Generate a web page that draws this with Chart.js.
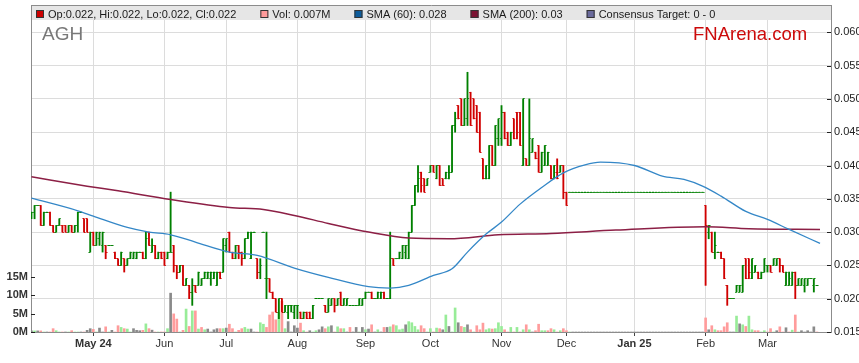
<!DOCTYPE html>
<html><head><meta charset="utf-8">
<script src="https://cdn.jsdelivr.net/npm/chart.js@4.4.1/dist/chart.umd.min.js"></script>
<style>
html,body{margin:0;padding:0;background:#fff;}
#wrap{width:859px;height:363px;position:relative;}
canvas{display:block;}
</style></head><body>
<div id="wrap"><canvas id="c" width="859" height="363"></canvas></div>
<script>
// trading-day number of the first bar (day 0 = 1 May 2024, weekdays only)
const firstDay = -20;

const openP = [
0.032,0.033,0.034,0.034,0.031,0.033,0.033,0.031,0.030,0.031,
0.031,0.031,0.030,0.031,0.030,0.031,0.033,0.032,0.032,0.027,
0.030,0.028,0.029,0.028,0.028,0.028,0.028,0.027,0.026,0.025,
0.026,0.025,0.026,0.026,0.026,0.027,0.027,0.026,0.030,0.027,
0.028,0.026,0.027,0.027,0.026,0.027,0.028,0.025,0.024,0.025,
0.022,0.022,0.021,0.022,0.022,0.022,0.023,0.023,0.023,0.023,
0.022,0.024,0.024,0.028,0.030,0.027,0.026,0.028,0.027,0.026,
0.029,0.026,0.030,0.026,0.024,0.030,0.023,0.023,0.021,0.020,
0.018,0.020,0.018,0.018,0.019,0.018,0.019,0.018,0.017,0.018,
0.018,0.017,0.020,0.020,0.020,0.019,0.018,0.019,0.020,0.019,
0.021,0.019,0.019,0.019,0.019,0.019,0.019,0.019,0.020,0.021,
0.021,0.020,0.020,0.020,0.021,0.020,0.020,0.026,0.026,0.026,
0.026,0.027,0.026,0.030,0.034,0.037,0.039,0.038,0.037,0.039,
0.040,0.038,0.040,0.038,0.038,0.038,0.039,0.046,0.049,0.050,
0.046,0.047,0.051,0.050,0.049,0.048,0.041,0.038,0.038,0.043,
0.040,0.044,0.044,0.048,0.045,0.043,0.047,0.048,0.048,0.040,
0.041,0.040,0.042,0.042,0.043,0.039,0.040,0.040,0.040,0.038,
0.039,0.039,0.040,0.036,
0.036,0.036,0.036,0.036,0.036,0.036,0.036,0.036,0.036,0.036,0.036,
0.036,0.036,0.036,0.036,0.036,0.036,0.036,0.036,0.036,0.036,0.036,
0.036,0.036,0.036,0.036,0.036,0.036,0.036,0.036,0.036,0.036,0.036,
0.036,0.036,0.036,0.036,0.036,0.036,0.036,0.036,0.036,0.036,0.036,
0.034,0.030,0.030,0.027,0.027,0.027,0.026,0.022,0.020,0.020,
0.021,0.021,0.021,0.026,0.026,0.023,0.024,0.024,0.023,0.024,
0.025,0.025,0.025,0.025,0.026,0.025,0.022,0.022,0.022,0.024,
0.022,0.022,0.022,0.022,0.023,0.022,0.022];

const highP = [
0.033,0.034,0.034,0.034,0.033,0.033,0.033,0.031,0.031,0.032,
0.031,0.031,0.031,0.031,0.031,0.033,0.033,0.032,0.032,0.030,
0.030,0.030,0.030,0.030,0.028,0.028,0.028,0.027,0.026,0.027,
0.026,0.026,0.027,0.027,0.027,0.027,0.027,0.030,0.030,0.029,
0.028,0.027,0.027,0.027,0.027,0.036,0.028,0.025,0.025,0.025,
0.023,0.022,0.023,0.022,0.024,0.023,0.024,0.024,0.024,0.024,
0.024,0.024,0.029,0.029,0.030,0.027,0.028,0.028,0.027,0.029,
0.030,0.030,0.030,0.026,0.026,0.030,0.030,0.023,0.021,0.020,
0.020,0.020,0.019,0.019,0.019,0.019,0.019,0.018,0.018,0.018,
0.018,0.019,0.020,0.020,0.020,0.019,0.020,0.020,0.020,0.020,
0.021,0.020,0.020,0.019,0.019,0.019,0.020,0.020,0.021,0.021,
0.021,0.020,0.021,0.021,0.021,0.020,0.030,0.026,0.026,0.027,
0.028,0.028,0.030,0.034,0.037,0.040,0.039,0.038,0.038,0.040,
0.040,0.040,0.040,0.038,0.039,0.040,0.046,0.048,0.049,0.050,
0.050,0.054,0.051,0.050,0.049,0.048,0.041,0.040,0.043,0.043,
0.046,0.047,0.049,0.048,0.045,0.045,0.047,0.048,0.048,0.050,
0.041,0.050,0.044,0.042,0.043,0.042,0.043,0.042,0.040,0.040,
0.041,0.040,0.040,0.036,
0.036,0.036,0.036,0.036,0.036,0.036,0.036,0.036,0.036,0.036,0.036,
0.036,0.036,0.036,0.036,0.036,0.036,0.036,0.036,0.036,0.036,0.036,
0.036,0.036,0.036,0.036,0.036,0.036,0.036,0.036,0.036,0.036,0.036,
0.036,0.036,0.036,0.036,0.036,0.036,0.036,0.036,0.036,0.036,0.036,
0.034,0.031,0.030,0.030,0.027,0.027,0.026,0.022,0.020,0.020,
0.022,0.022,0.025,0.026,0.026,0.026,0.025,0.024,0.024,0.026,
0.025,0.025,0.026,0.026,0.026,0.025,0.024,0.024,0.024,0.024,
0.023,0.023,0.023,0.023,0.023,0.023,0.022];

const lowP = [
0.032,0.032,0.034,0.031,0.031,0.033,0.031,0.030,0.030,0.031,
0.030,0.030,0.030,0.030,0.030,0.030,0.033,0.030,0.030,0.027,
0.028,0.028,0.028,0.027,0.026,0.028,0.028,0.026,0.025,0.025,
0.024,0.025,0.026,0.026,0.026,0.027,0.026,0.026,0.028,0.027,
0.026,0.026,0.026,0.025,0.026,0.027,0.024,0.023,0.024,0.022,
0.022,0.020,0.019,0.021,0.022,0.022,0.023,0.023,0.022,0.023,
0.022,0.023,0.024,0.027,0.027,0.026,0.026,0.026,0.025,0.026,
0.029,0.026,0.030,0.023,0.023,0.030,0.020,0.021,0.020,0.018,
0.017,0.018,0.018,0.017,0.018,0.017,0.017,0.017,0.017,0.017,
0.017,0.017,0.020,0.020,0.020,0.018,0.018,0.019,0.018,0.019,
0.019,0.019,0.019,0.019,0.019,0.019,0.019,0.019,0.020,0.021,
0.020,0.020,0.020,0.020,0.020,0.020,0.020,0.025,0.026,0.026,
0.026,0.026,0.026,0.030,0.034,0.036,0.036,0.036,0.037,0.039,
0.039,0.038,0.037,0.037,0.038,0.038,0.039,0.045,0.047,0.046,
0.046,0.046,0.046,0.047,0.045,0.042,0.038,0.038,0.038,0.040,
0.040,0.043,0.043,0.044,0.043,0.043,0.044,0.044,0.043,0.040,
0.040,0.040,0.042,0.041,0.039,0.039,0.040,0.040,0.038,0.038,
0.038,0.039,0.035,0.034,
0.036,0.036,0.036,0.036,0.036,0.036,0.036,0.036,0.036,0.036,0.036,
0.036,0.036,0.036,0.036,0.036,0.036,0.036,0.036,0.036,0.036,0.036,
0.036,0.036,0.036,0.036,0.036,0.036,0.036,0.036,0.036,0.036,0.036,
0.036,0.036,0.036,0.036,0.036,0.036,0.036,0.036,0.036,0.036,0.036,
0.022,0.029,0.027,0.026,0.027,0.026,0.023,0.019,0.020,0.020,
0.021,0.021,0.021,0.023,0.023,0.023,0.024,0.023,0.023,0.024,
0.024,0.024,0.025,0.025,0.024,0.024,0.022,0.022,0.022,0.020,
0.022,0.022,0.021,0.022,0.023,0.021,0.022];

const closeP = [
0.033,0.034,0.034,0.031,0.033,0.033,0.031,0.030,0.031,0.032,
0.030,0.030,0.031,0.030,0.031,0.033,0.033,0.030,0.030,0.030,
0.028,0.030,0.030,0.030,0.027,0.028,0.028,0.026,0.025,0.027,
0.025,0.026,0.027,0.027,0.027,0.027,0.026,0.029,0.028,0.028,
0.026,0.027,0.026,0.025,0.027,0.027,0.025,0.024,0.025,0.022,
0.023,0.021,0.022,0.021,0.024,0.023,0.024,0.024,0.024,0.024,
0.024,0.023,0.029,0.029,0.027,0.026,0.028,0.027,0.026,0.029,
0.030,0.030,0.030,0.024,0.025,0.030,0.023,0.021,0.020,0.018,
0.020,0.018,0.019,0.019,0.019,0.019,0.019,0.017,0.018,0.017,
0.017,0.019,0.020,0.020,0.020,0.018,0.020,0.020,0.019,0.020,
0.019,0.020,0.020,0.019,0.019,0.019,0.020,0.020,0.021,0.021,
0.020,0.020,0.021,0.021,0.020,0.020,0.026,0.025,0.026,0.027,
0.028,0.028,0.030,0.034,0.037,0.038,0.037,0.036,0.038,0.040,
0.039,0.040,0.037,0.037,0.039,0.039,0.046,0.047,0.047,0.046,
0.050,0.050,0.046,0.047,0.045,0.042,0.038,0.040,0.043,0.040,
0.046,0.047,0.048,0.044,0.043,0.045,0.044,0.045,0.043,0.050,
0.040,0.044,0.044,0.041,0.039,0.042,0.043,0.042,0.038,0.040,
0.038,0.040,0.036,0.034,
0.036,0.036,0.036,0.036,0.036,0.036,0.036,0.036,0.036,0.036,0.036,
0.036,0.036,0.036,0.036,0.036,0.036,0.036,0.036,0.036,0.036,0.036,
0.036,0.036,0.036,0.036,0.036,0.036,0.036,0.036,0.036,0.036,0.036,
0.036,0.036,0.036,0.036,0.036,0.036,0.036,0.036,0.036,0.036,0.036,
0.031,0.031,0.027,0.028,0.027,0.026,0.023,0.020,0.020,0.020,
0.022,0.022,0.025,0.023,0.024,0.026,0.025,0.023,0.024,0.026,
0.025,0.024,0.026,0.026,0.025,0.024,0.024,0.023,0.024,0.022,
0.023,0.023,0.023,0.023,0.023,0.023,0.022];

// volume in millions of shares
const volumeM = [
0.3,0.3,0.3,0.3,0,0,0,0.9,0.35,0,
0,0,0,0.35,0,0,0,0,0.45,0.9,
0.7,0,1.06,0,1.4,0,0.45,0,1.7,1.24,
0.9,0.8,0,0.9,0.45,0.35,0.45,2.2,0.9,0.5,
0,0,0,0,0.9,10.5,4.9,3.5,0,0.45,
6.2,1.5,5.7,5.7,0.8,1.24,0.6,0.8,0,0.6,
0.9,0.9,0.9,1.06,2.1,0.9,0,0.45,0.9,1.24,
0.8,0.8,0,0,2.5,2.1,1.24,4.6,5.4,3.3,
5.2,8.3,0.9,2.8,0,1.7,1.06,2.4,0.35,0,
0.35,0,0.35,0.6,1.4,0.9,1.4,1.7,0,1.4,
0.9,0.9,0,1.24,0,1.24,0,1.24,0.6,0.8,
1.95,0,0.6,0,1.24,1.24,1.4,1.95,1.7,0.6,
0.8,1.95,2.8,2.5,1.5,0.6,1.7,0.9,0,0.9,
0,1.06,0.9,0.6,4.6,1.5,0,6.5,2.5,1.5,
1.24,1.95,0.6,0,1.7,0.6,2.4,0.6,0.9,0.8,
0.9,2.5,1.5,0.6,0,1.24,0,1.24,0,0.6,
1.95,0.6,0,0.35,2.1,0.35,0.35,0.35,0.9,0.6,
0,0.35,0.9,0.35,
0,0,0,0,0,0,0,0,0,0,0,
0,0,0,0,0,0,0,0,0,0,0,
0,0,0,0,0,0,0,0,0,0,0,
0,0,0,0,0,0,0,0,0,0,0,
3.8,0.6,1.7,0.6,0.35,0.35,1.4,2.5,0,0,
4.3,2.2,1.95,1.5,4.3,0.6,0.35,0.35,0,0.35,
0,0.9,0,0.35,1.4,0,1.15,0,0.5,4.6,
0,0.35,0,0.35,0,1.4,0.007];

// moving averages (trading day -> value)
const sma60Days   = [-20,-5,0,11,18,25,33,44,53,65,76,89,96,102,110,116,121,127,132,138,145,152,159,164,175,184,191,197,203,211,218,225,235];
const sma60Values = [0.0351,0.0332,0.0324,0.0307,0.0300,0.0296,0.0285,0.0270,0.0265,0.0246,0.0232,0.0218,0.0216,0.0220,0.0235,0.0245,0.0270,0.0297,0.0315,0.0342,0.0367,0.0389,0.0401,0.0405,0.0400,0.0384,0.0379,0.0369,0.0354,0.0331,0.0319,0.0304,0.0283];
const sma200Days   = [-20,-2,8,25,44,55,65,76,89,102,115,131,148,169,198,212,235];
const sma200Values = [0.0383,0.0369,0.0362,0.0349,0.0337,0.0334,0.0325,0.0313,0.0300,0.0291,0.0290,0.0296,0.0298,0.0303,0.0308,0.0305,0.0304];

const monthTickDays = [0,23,43,66,88,109,132,153,175,198,218];
const monthLabels   = ['May 24','Jun','Jul','Aug','Sep','Oct','Nov','Dec','Jan 25','Feb','Mar'];
const priceTicks  = [0.015,0.020,0.025,0.030,0.035,0.040,0.045,0.050,0.055,0.060];
const volumeTicks = [0,5,10,15];

const legendLabels = ['Op:0.022, Hi:0.022, Lo:0.022, Cl:0.022','Vol: 0.007M','SMA (60): 0.028','SMA (200): 0.03','Consensus Target: 0 - 0'];
const legendColors = ['#cc0000','#ff9a9a','#0d5c9c','#7c1232','#6a6a9c'];
const ticker = 'AGH';
const brand = 'FNArena.com';

// ---------------------------------------------------------------
const FONT = "'Liberation Sans', Arial, sans-serif";
const UP = '#008000', DOWN = '#d00000';
const days = openP.map((_, i) => firstDay + i);
const barColor = closeP.map((c, i) => c >= openP[i] ? UP : DOWN);
const volColor = closeP.map((c, i) => i === 0 ? '#8a8a8a' : (c > closeP[i-1] ? '#98ec98' : (c < closeP[i-1] ? '#ff9c9c' : '#8a8a8a')));

function tickImg(color, left) {
  const cv = document.createElement('canvas');
  cv.width = 4; cv.height = 1;
  const g = cv.getContext('2d');
  g.fillStyle = color;
  g.fillRect(left ? 0.5 : 2, 0, 1.5, 1);
  return cv;
}
const imgs = {openUp: tickImg(UP, true), openDown: tickImg(DOWN, true), closeUp: tickImg(UP, false), closeDown: tickImg(DOWN, false)};

const chrome = {
  id: 'chrome',
  afterDraw(chart) {
    const {ctx, chartArea: a} = chart;
    ctx.save();
    // header band
    ctx.fillStyle = '#e6e6e6';
    ctx.fillRect(a.left + 1, a.top + 1, a.right - a.left - 1, 14);
    ctx.strokeStyle = '#8c8c8c'; ctx.lineWidth = 1;
    ctx.beginPath(); ctx.moveTo(a.left, a.top + 0.5); ctx.lineTo(a.right + 0.5, a.top + 0.5); ctx.stroke();
    // legend
    ctx.font = '11px ' + FONT; ctx.textBaseline = 'alphabetic';
    let x = a.left + 5;
    legendLabels.forEach((t, i) => {
      ctx.fillStyle = legendColors[i];
      ctx.fillRect(x, a.top + 5, 8, 8);
      ctx.strokeStyle = '#333'; ctx.strokeRect(x + 0.5, a.top + 5.5, 7, 7);
      ctx.fillStyle = '#1a1a1a';
      ctx.fillText(t, x + 12, a.top + 12.5);
      x += 12 + ctx.measureText(t).width + 24;
    });
    // ticker and watermark
    ctx.font = '19px ' + FONT; ctx.fillStyle = '#787878';
    ctx.fillText(ticker, a.left + 11, 39.5);
    ctx.font = '18.5px ' + FONT; ctx.fillStyle = '#cc0a0a';
    ctx.fillText(brand, 693, 39.5);
    // inward tick marks on value axes
    ctx.strokeStyle = '#222';
    const sv = chart.scales.yVol, sp = chart.scales.yPrice;
    sv.ticks.forEach(t => { const y = Math.round(sv.getPixelForValue(t.value)) + 0.5; ctx.beginPath(); ctx.moveTo(a.left, y); ctx.lineTo(a.left + 4, y); ctx.stroke(); });
    sp.ticks.forEach(t => { const y = Math.round(sp.getPixelForValue(t.value)) + 0.5; ctx.beginPath(); ctx.moveTo(a.right - 4, y); ctx.lineTo(a.right, y); ctx.stroke(); });
    ctx.restore();
  }
};

new Chart(document.getElementById('c'), {
  type: 'line',
  data: {
    datasets: [
      {label: 'SMA (60)', data: sma60Days.map((d, i) => ({x: d, y: sma60Values[i]})), yAxisID: 'yPrice',
       borderColor: '#3487c7', borderWidth: 1.3, pointRadius: 0, cubicInterpolationMode: 'monotone', order: 0},
      {label: 'SMA (200)', data: sma200Days.map((d, i) => ({x: d, y: sma200Values[i]})), yAxisID: 'yPrice',
       borderColor: '#8c1f45', borderWidth: 1.5, pointRadius: 0, cubicInterpolationMode: 'monotone', order: 0},
      {label: 'Open', data: days.map((d, i) => ({x: d, y: openP[i]})), yAxisID: 'yPrice', showLine: false,
       pointRadius: 1, pointStyle: barColor.map(c => c === UP ? imgs.openUp : imgs.openDown), order: 1},
      {label: 'Close', data: days.map((d, i) => ({x: d, y: closeP[i]})), yAxisID: 'yPrice', showLine: false,
       pointRadius: 1, pointStyle: barColor.map(c => c === UP ? imgs.closeUp : imgs.closeDown), order: 1},
      {type: 'bar', label: 'High-Low', data: days.map((d, i) => ({x: d, y: [lowP[i], highP[i]]})), yAxisID: 'yPrice',
       backgroundColor: barColor, barThickness: 1.2, grouped: false, order: 2},
      {type: 'bar', label: 'Volume', data: days.map((d, i) => ({x: d, y: volumeM[i]})), yAxisID: 'yVol',
       backgroundColor: volColor, barThickness: 2, grouped: false, order: 3}
    ]
  },
  options: {
    responsive: false, devicePixelRatio: 1, animation: false, events: [],
    layout: {padding: {top: 2, left: 0, right: 0, bottom: 0}},
    plugins: {legend: {display: false}, tooltip: {enabled: false}},
    scales: {
      x: {
        type: 'linear', min: -20.15, max: 238.55, offset: false,
        afterBuildTicks: s => { s.ticks = monthTickDays.map(v => ({value: v})); },
        afterFit: s => { s.height = 31; s.paddingLeft = 0; s.paddingRight = 0; },
        grid: {color: '#dcdcdc', tickColor: '#444', tickLength: 4, offset: false},
        border: {color: '#8c8c8c'},
        ticks: {autoSkip: false, maxRotation: 0, padding: 1, color: '#333',
          callback: (v, i) => monthLabels[i],
          font: c => ({family: FONT, size: 11, weight: (monthLabels[c.index] || '').indexOf(' ') > 0 ? 'bold' : 'normal'})}
      },
      yPrice: {
        type: 'linear', position: 'right', min: 0.015, max: 0.0641,
        afterBuildTicks: s => { s.ticks = priceTicks.map(v => ({value: v})); },
        afterFit: s => { s.width = 28; s.paddingTop = 0; s.paddingBottom = 0; },
        grid: {color: '#dcdcdc', drawTicks: false},
        border: {color: '#8c8c8c'},
        ticks: {padding: 3, color: '#222', font: {family: FONT, size: 11}, callback: v => v.toFixed(3)}
      },
      yVol: {
        type: 'linear', position: 'left', min: 0, max: 88.4,
        afterBuildTicks: s => { s.ticks = volumeTicks.map(v => ({value: v})); },
        afterFit: s => { s.width = 31; s.paddingTop = 0; s.paddingBottom = 0; },
        grid: {display: false, drawTicks: false},
        border: {color: '#8c8c8c'},
        ticks: {padding: 3, color: '#333', font: {family: FONT, size: 11, weight: 'bold'}, callback: v => v + 'M'}
      }
    }
  },
  plugins: [chrome]
});
</script>
</body></html>
